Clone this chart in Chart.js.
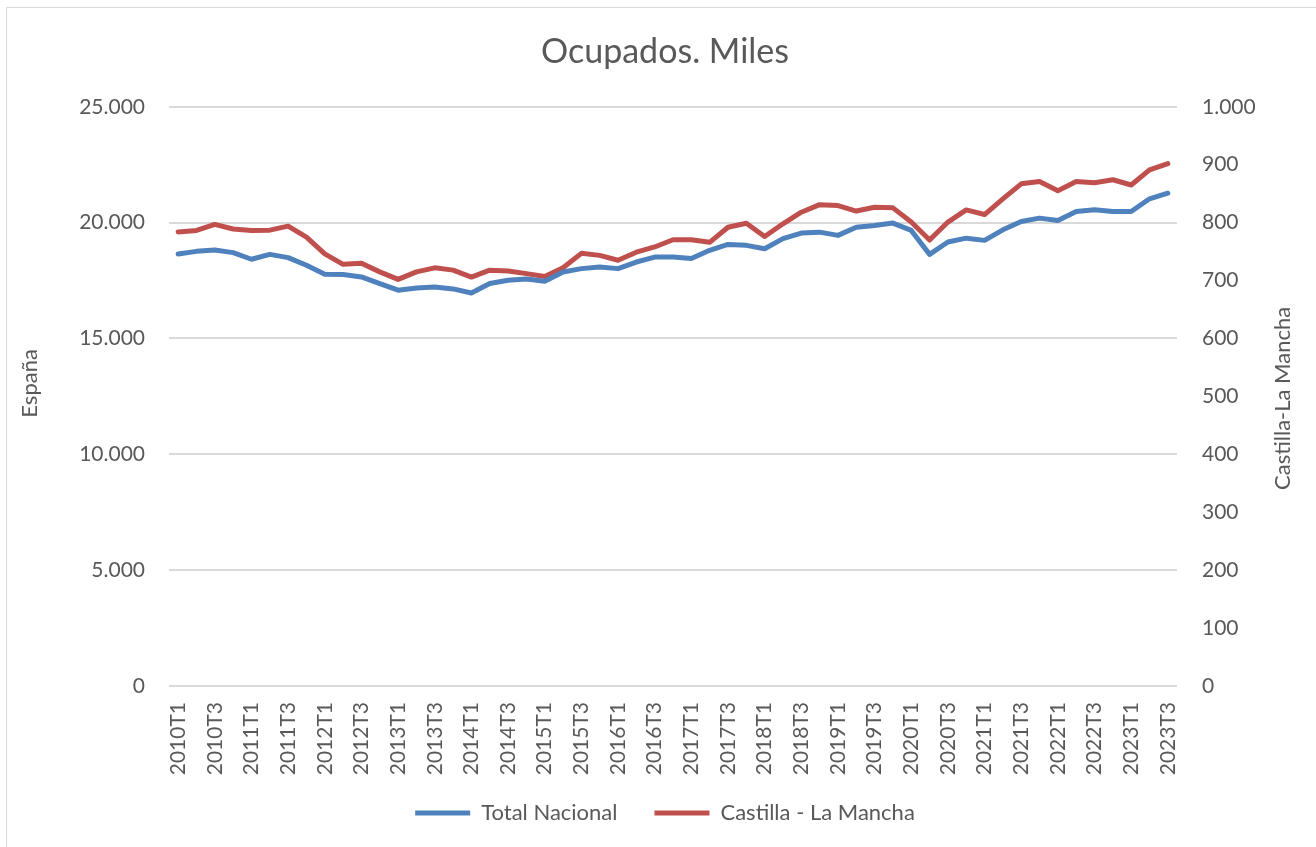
<!DOCTYPE html>
<html>
<head>
<meta charset="utf-8">
<script src="https://cdn.jsdelivr.net/npm/chart.js@4/dist/chart.umd.min.js"></script>
<style>
  body { margin: 0; background: #fff; }
  #wrap { width: 1316px; height: 847px; }
</style>
</head>
<body>
<div id="wrap"><canvas id="ocupados-chart" width="1316" height="847"></canvas></div>
<script>
// Trimestres (2010T1 - 2023T3)
var quarters = [
    '2010T1','2010T2','2010T3','2010T4','2011T1','2011T2','2011T3','2011T4',
    '2012T1','2012T2','2012T3','2012T4','2013T1','2013T2','2013T3','2013T4',
    '2014T1','2014T2','2014T3','2014T4','2015T1','2015T2','2015T3','2015T4',
    '2016T1','2016T2','2016T3','2016T4','2017T1','2017T2','2017T3','2017T4',
    '2018T1','2018T2','2018T3','2018T4','2019T1','2019T2','2019T3','2019T4',
    '2020T1','2020T2','2020T3','2020T4','2021T1','2021T2','2021T3','2021T4',
    '2022T1','2022T2','2022T3','2022T4','2023T1','2023T2','2023T3'
];

// Ocupados, miles - eje izquierdo
var totalNacional = [
    18650, 18760, 18815, 18705, 18420, 18630, 18490, 18160,
    17770, 17760, 17655, 17370, 17085, 17180, 17225, 17140,
    16965, 17370, 17510, 17570, 17470, 17870, 18015, 18085,
    18015, 18300, 18515, 18515, 18450, 18805, 19060, 19020,
    18875, 19310, 19550, 19590, 19450, 19805, 19880, 19980,
    19665, 18630, 19165, 19330, 19235, 19690, 20050, 20195,
    20095, 20480, 20555, 20480, 20480, 21030, 21270
];

// Ocupados, miles - eje derecho
var castillaLaMancha = [
    784, 786.5, 797, 789, 786.5, 787, 794, 775,
    746, 728, 730, 715, 702, 715, 722, 718,
    706, 718, 716.5, 712, 707, 722, 747, 743.5,
    735, 749, 758, 770.5, 770.5, 766, 792, 799,
    776, 798, 818, 831, 829.5, 820, 826.5, 825.5,
    801, 770, 801, 822, 814, 841, 867, 871,
    855, 871, 869, 874, 865, 891, 902
];

var leftTitle = 'España';
var rightTitle = 'Castilla-La Mancha';

var textColor = '#595959';
var gridColor = '#D9D9D9';
var fontFamily = 'Lato, "Open Sans", sans-serif';

function fmt(v) {
    return String(v).replace(/\B(?=(\d{3})+(?!\d))/g, '.'); // 25000 -> 25.000
}

// white background, thin frame on top/left, and both axis titles (read bottom to top)
var decor = {
    id: 'decor',
    beforeDraw: function (chart) {
        var ctx = chart.ctx;
        ctx.save();
        ctx.fillStyle = '#ffffff';
        ctx.fillRect(0, 0, chart.width, chart.height);
        ctx.strokeStyle = gridColor;
        ctx.lineWidth = 1;
        ctx.beginPath();
        ctx.moveTo(6.5, 847);
        ctx.lineTo(6.5, 7.5);
        ctx.lineTo(1316, 7.5);
        ctx.stroke();
        ctx.restore();
    },
    afterDraw: function (chart) {
        var ctx = chart.ctx;
        var mid = (chart.chartArea.top + chart.chartArea.bottom) / 2;
        ctx.save();
        ctx.fillStyle = textColor;
        ctx.font = '22px ' + fontFamily;
        ctx.textAlign = 'center';
        ctx.textBaseline = 'middle';
        [[30, mid - 13, leftTitle], [1283, mid + 2, rightTitle]].forEach(function (t) {
            ctx.save();
            ctx.translate(t[0], t[1]);
            ctx.rotate(-Math.PI / 2);
            ctx.fillText(t[2], 0, 0);
            ctx.restore();
        });
        ctx.restore();
    }
};

Chart.defaults.font.family = fontFamily;
Chart.defaults.color = textColor;

var ctx = document.getElementById('ocupados-chart').getContext('2d');
var chart = new Chart(ctx, {
    type: 'line',
    data: {
        labels: quarters,
        datasets: [{
            label: 'Total Nacional',
            data: totalNacional,
            yAxisID: 'y',
            borderColor: '#4F81BD',
            backgroundColor: '#4F81BD',
            borderWidth: 5,
            borderJoinStyle: 'round',
            borderCapStyle: 'round',
            pointRadius: 0,
            tension: 0
        }, {
            label: 'Castilla - La Mancha',
            data: castillaLaMancha,
            yAxisID: 'y1',
            borderColor: '#C0504D',
            backgroundColor: '#C0504D',
            borderWidth: 5,
            borderJoinStyle: 'round',
            borderCapStyle: 'round',
            pointRadius: 0,
            tension: 0
        }]
    },
    options: {
        responsive: false,
        animation: false,
        layout: { padding: { left: 14, right: 0, top: 0, bottom: 13 } },
        plugins: {
            title: {
                display: true,
                text: 'Ocupados. Miles',
                color: textColor,
                font: { size: 34, weight: 'normal' },
                padding: { top: 32, bottom: 34 }
            },
            legend: {
                position: 'bottom',
                labels: {
                    boxWidth: 55,
                    boxHeight: 5,
                    padding: 37,
                    font: { size: 22 },
                    color: textColor,
                    generateLabels: function (chart) {
                        var items = Chart.defaults.plugins.legend.labels.generateLabels(chart);
                        items.forEach(function (it) { it.lineWidth = 0; });
                        return items;
                    }
                }
            },
            tooltip: { enabled: false }
        },
        scales: {
            x: {
                offset: true,
                grid: { display: false, drawTicks: false },
                border: { display: false },
                ticks: {
                    autoSkip: false,
                    minRotation: 90,
                    maxRotation: 90,
                    padding: 16,
                    font: { size: 21 },
                    callback: function (val, i) { return i % 2 === 0 ? quarters[i] : ''; }
                },
                afterFit: function (scale) {
                    scale.height = 79;
                    scale._computeLabelArea = function () { return undefined; }; // labels may run past the box, don't clip
                }
            },
            y: {
                position: 'left',
                min: 0,
                max: 25000,
                grid: { color: gridColor, lineWidth: 2, drawTicks: false },
                border: { display: false },
                ticks: {
                    stepSize: 5000,
                    padding: 24,
                    font: { size: 21 },
                    callback: function (v) { return fmt(v); }
                },
                afterFit: function (scale) { scale.width = 155; }
            },
            y1: {
                position: 'right',
                min: 0,
                max: 1000,
                grid: { display: false, drawTicks: false },
                border: { display: false },
                ticks: {
                    stepSize: 100,
                    padding: 25,
                    font: { size: 21 },
                    callback: function (v) { return fmt(v); }
                },
                afterFit: function (scale) { scale.width = 139; }
            }
        }
    },
    plugins: [decor]
});
</script>
</body>
</html>
